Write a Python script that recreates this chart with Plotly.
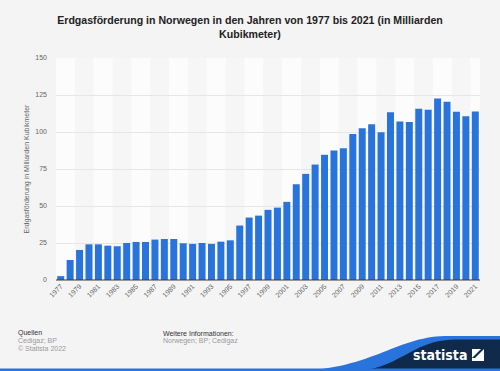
import plotly.graph_objects as go

years = list(range(1977, 2022))
values = [2.6, 13.5, 20.3, 24.1, 24.1, 23.2, 22.8, 25.0, 25.7, 25.7,
          27.3, 27.7, 27.7, 24.8, 24.4, 25.0, 24.4, 25.9, 26.8, 36.8,
          42.2, 43.5, 47.4, 48.9, 52.8, 64.7, 71.7, 78.0, 84.6, 87.5,
          89.1, 98.6, 102.6, 105.3, 99.9, 113.4, 107.1, 106.7, 115.7, 115.0,
          122.7, 120.4, 113.7, 110.7, 113.9]
tick_labels = [str(y) for y in years[::2]]
y_ticks = [0, 25, 50, 75, 100, 125, 150]

title_text = "Erdgasförderung in Norwegen in den Jahren von 1977 bis 2021 (in Milliarden<br>Kubikmeter)"
y_title = "Erdgasförderung in Milliarden Kubikmeter"

W, H = 500, 371
L, R, T, B = 56, 20, 58, 91
PW, PH = W - L - R, H - T - B

def px(x):
    return (x - L) / PW

def py(y):
    return (H - B - y) / PH

FONT = "Liberation Sans, Arial, sans-serif"

fig = go.Figure()
fig.add_trace(go.Bar(
    x=[str(y) for y in years], y=values,
    marker=dict(color="#2873dc", line=dict(width=0)),
    hoverinfo="x+y",
))

shapes = []
# subtle alternating bands every two categories
for i in range(0, len(years), 4):
    shapes.append(dict(type="rect", xref="x", yref="paper",
                       x0=i - 0.5 + 2, x1=min(i + 3.5, len(years) - 0.5),
                       y0=0, y1=1, fillcolor="#f6f6f6", line=dict(width=0),
                       layer="below"))
# bottom axis line
shapes.append(dict(type="line", xref="paper", yref="paper", x0=0, x1=1, y0=0, y1=0,
                   line=dict(color="#3a3a3a", width=1)))

blue_path = ("M {},{} C {},{} {},{} {},{} L {},{} L {},{} Z").format(
    px(290), py(371), px(370), py(371), px(395), py(337), px(445), py(336),
    px(500), py(336), px(500), py(371))
navy_path = ("M {},{} C {},{} {},{} {},{} L {},{} L {},{} Z").format(
    px(350), py(371), px(400), py(371), px(410), py(340), px(455), py(339.5),
    px(500), py(339.5), px(500), py(371))
shapes.append(dict(type="path", xref="paper", yref="paper", path=blue_path,
                   fillcolor="#2873dc", line=dict(width=0)))
shapes.append(dict(type="path", xref="paper", yref="paper", path=navy_path,
                   fillcolor="#0f2a4a", line=dict(width=0)))
shapes.append(dict(type="rect", xref="paper", yref="paper",
                   x0=px(0), x1=px(500), y0=py(371), y1=py(368.5),
                   fillcolor="#2873dc", line=dict(width=0)))
# logo square
shapes.append(dict(type="rect", xref="paper", yref="paper",
                   x0=px(472), x1=px(484), y0=py(361), y1=py(349),
                   fillcolor="white", line=dict(width=0)))
shapes.append(dict(type="path", xref="paper", yref="paper",
                   path="M {},{} L {},{} L {},{} L {},{} Z".format(
                       px(472), py(358), px(481), py(349), px(484), py(349), px(475), py(358)),
                   fillcolor="#0f2a4a", line=dict(width=0)))

annotations = [
    dict(text="Quellen", x=px(16), y=py(333), xref="paper", yref="paper",
         xanchor="left", yanchor="middle", showarrow=False,
         font=dict(size=7, color="#333333", family=FONT)),
    dict(text="Cedigaz; BP", x=px(16), y=py(341), xref="paper", yref="paper",
         xanchor="left", yanchor="middle", showarrow=False,
         font=dict(size=7, color="#9a9a9a", family=FONT)),
    dict(text="© Statista 2022", x=px(16), y=py(348.5), xref="paper", yref="paper",
         xanchor="left", yanchor="middle", showarrow=False,
         font=dict(size=7, color="#9a9a9a", family=FONT)),
    dict(text="Weitere Informationen:", x=px(161), y=py(333), xref="paper", yref="paper",
         xanchor="left", yanchor="middle", showarrow=False,
         font=dict(size=7, color="#333333", family=FONT)),
    dict(text="Norwegen; BP; Cedigaz", x=px(161), y=py(341), xref="paper", yref="paper",
         xanchor="left", yanchor="middle", showarrow=False,
         font=dict(size=7, color="#9a9a9a", family=FONT)),
    dict(text="<b>statista</b>", x=px(469), y=py(355), xref="paper", yref="paper",
         xanchor="right", yanchor="middle", showarrow=False,
         font=dict(size=14, color="white", family="DejaVu Sans Condensed, DejaVu Sans, sans-serif")),
]

fig.update_layout(
    width=W, height=H,
    margin=dict(l=L, r=R, t=T, b=B, pad=0),
    paper_bgcolor="#f4f4f4", plot_bgcolor="#fcfcfc",
    title=dict(text="<b>" + title_text + "</b>", x=0.5, xanchor="center",
               y=1 - 24 / H, yanchor="middle",
               font=dict(size=10.6, color="#222222", family=FONT)),
    bargap=0.26,
    showlegend=False,
    shapes=shapes,
    annotations=annotations,
    xaxis=dict(
        type="category",
        tickmode="array", tickvals=[str(y) for y in years[::2]], ticktext=tick_labels,
        tickangle=-45, tickfont=dict(size=7, color="#666666", family=FONT),
        showgrid=False, showline=False, ticks="", zeroline=False,
        range=[-0.5, len(years) - 0.5], automargin=False,
    ),
    yaxis=dict(
        range=[0, 150], tickvals=y_ticks,
        tickfont=dict(size=7, color="#666666", family=FONT),
        gridcolor="#e6e6e6", gridwidth=1, zeroline=False, showline=False,
        ticks="", ticklabelstandoff=8, automargin=False,
        title=dict(text=y_title, font=dict(size=7, color="#666666", family=FONT), standoff=4),
    ),
)

fig.write_html("out.html", config={"displayModeBar": False},
               post_script="document.body.style.margin='0';document.body.style.background='#f4f4f4';document.body.style.overflow='hidden';")
